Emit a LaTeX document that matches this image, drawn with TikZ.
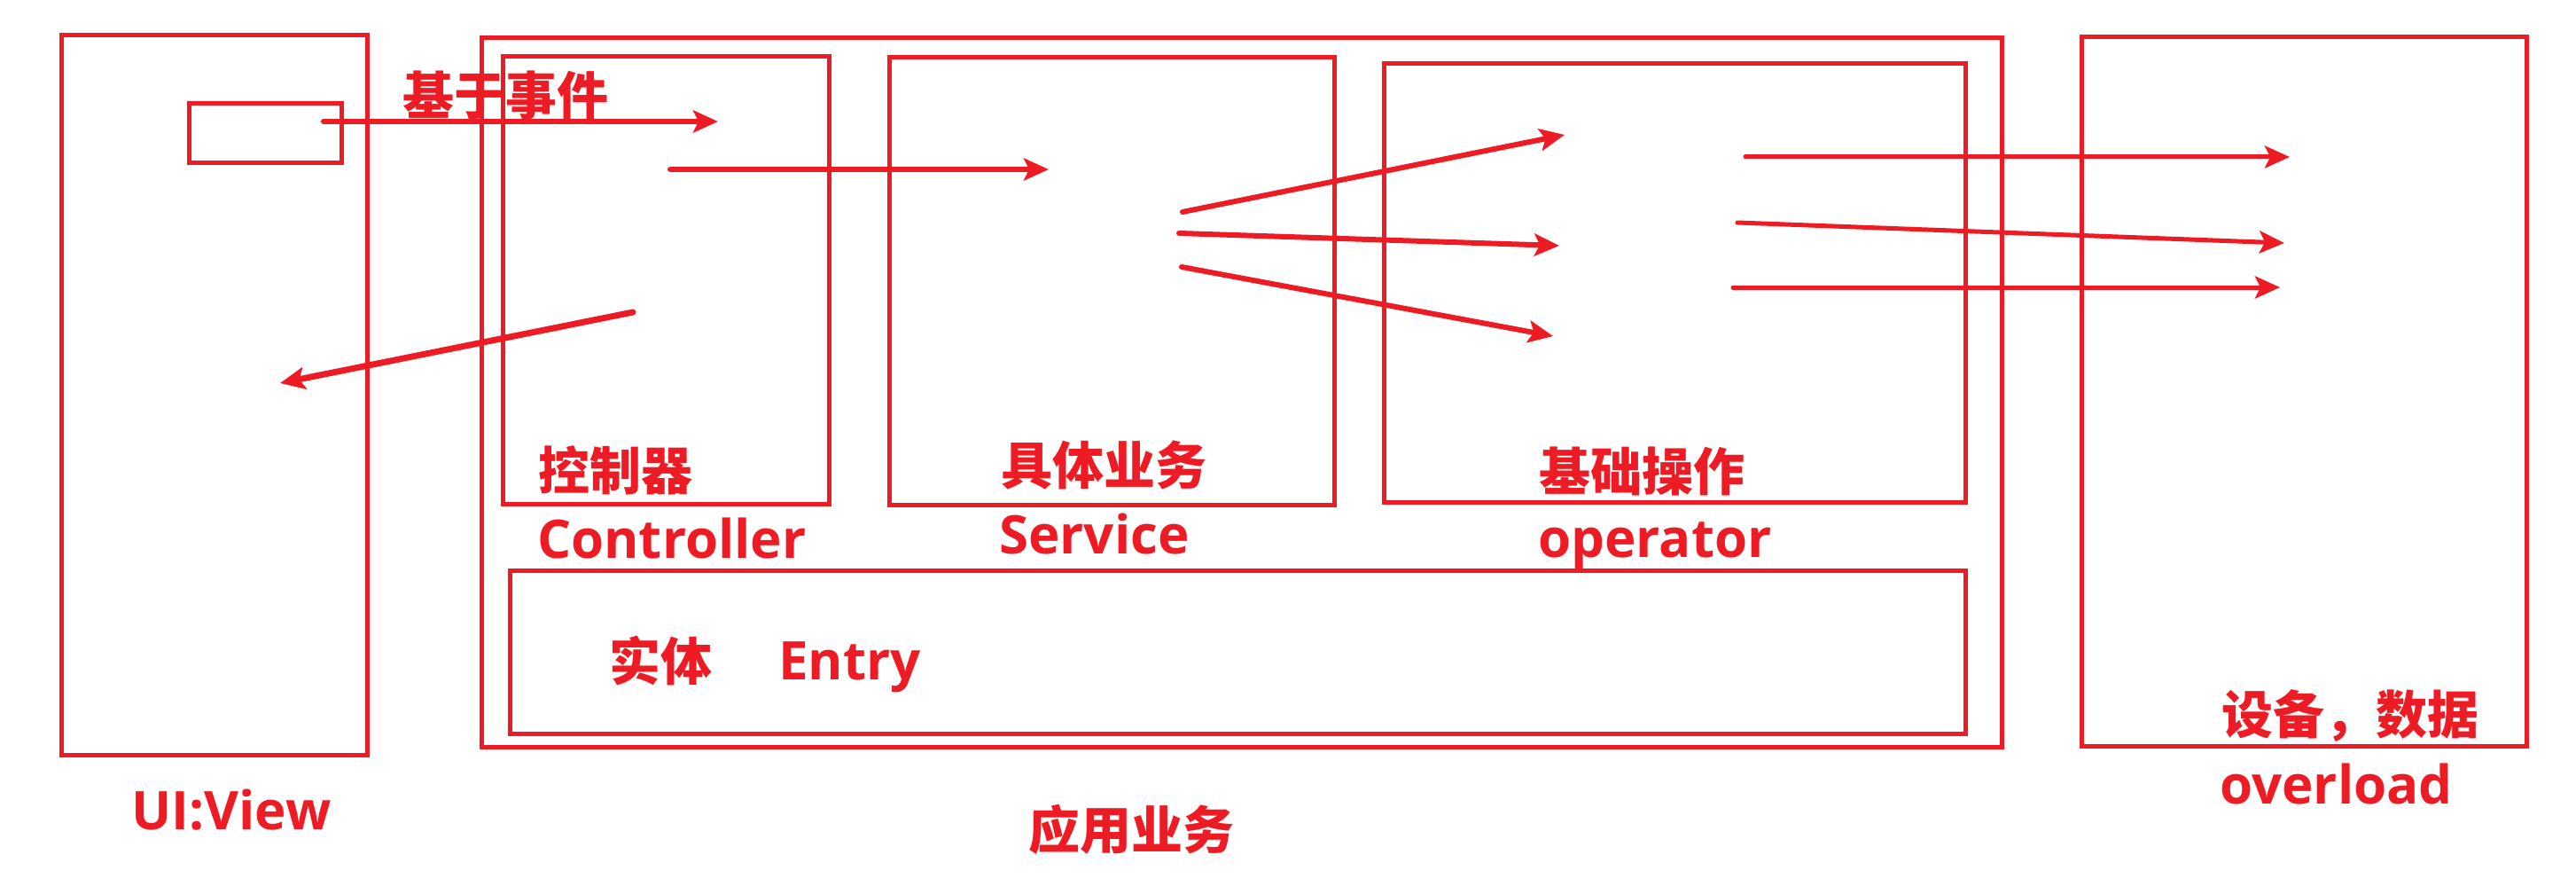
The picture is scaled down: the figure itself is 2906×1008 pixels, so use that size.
\documentclass[tikz,border=0pt]{standalone}
\usepackage{fontspec}
\newfontfamily\cjk{Noto Sans CJK SC}
\newfontfamily\lat{Open Sans}
\usetikzlibrary{arrows.meta}
\definecolor{pred}{HTML}{ED1C24}
\tikzset{
  box/.style={draw=pred, line width=5pt, inner sep=0pt, rectangle},
  arr/.style={draw=pred, line width=6pt, line cap=round,
     -{Stealth[length=28pt, width=25pt, inset=6pt]}},
  thinarr/.style={arr, line width=5pt},
  cjklab/.style={text=pred, inner sep=0pt, font=\cjk\bfseries\fontsize{58pt}{60pt}\selectfont},
  latlab/.style={text=pred, inner sep=0pt, anchor=base west, font=\lat\bfseries\fontsize{60pt}{62pt}\selectfont},
}
\begin{document}
\begin{tikzpicture}[x=1pt, y=-1pt]
\useasboundingbox (0,0) rectangle (2906,1008);
% boxes
\node[box, minimum width=345pt, minimum height=811pt] (ui) at (241.5,445.5) {};
\node[box, minimum width=172pt, minimum height=67pt] (ev) at (299,150.5) {};
\node[box, minimum width=1715pt, minimum height=799pt] (app) at (1400.5,442.5) {};
\node[box, minimum width=368pt, minimum height=504pt] (ctl) at (751,316) {};
\node[box, minimum width=502pt, minimum height=504pt] (svc) at (1254,317) {};
\node[box, minimum width=656pt, minimum height=494pt] (opr) at (1889,319) {};
\node[box, minimum width=1642pt, minimum height=184pt] (ent) at (1396,735) {};
\node[box, minimum width=502pt, minimum height=799pt] (dev) at (2599,441.5) {};
% arrow end points
\coordinate (e1s) at (365,137);  \coordinate (e1t) at (810,137);
\coordinate (e2s) at (756,191);  \coordinate (e2t) at (1183,191);
\coordinate (r1s) at (714,352);  \coordinate (r1t) at (316,432);
\coordinate (s1s) at (1334,239); \coordinate (s1t) at (1765,152);
\coordinate (s2s) at (1330,263); \coordinate (s2t) at (1759,277);
\coordinate (s3s) at (1333,301); \coordinate (s3t) at (1752,379);
\coordinate (o1s) at (1969,177); \coordinate (o1t) at (2583,177);
\coordinate (o2s) at (1960,251); \coordinate (o2t) at (2577,274);
\coordinate (o3s) at (1955,324); \coordinate (o3t) at (2572,324);
\draw[arr] (e1s) -- (e1t);
\draw[arr] (e2s) -- (e2t);
\draw[arr, line width=7pt] (r1s) -- (r1t);
\draw[arr] (s1s) -- (s1t);
\draw[arr] (s2s) -- (s2t);
\draw[arr] (s3s) -- (s3t);
\draw[thinarr] (o1s) -- (o1t);
\draw[thinarr] (o2s) -- (o2t);
\draw[thinarr] (o3s) -- (o3t);
% labels
\node[cjklab] (tev) at (570,108) {基于事件};
\node[cjklab] (tctl) at (694,530) {控制器};
\node[cjklab] (tsvc) at (1245,524) {具体业务};
\node[cjklab] (topr) at (1852,532) {基础操作};
\node[cjklab] (tent) at (745,745) {实体};
\node[cjklab] (tapp) at (1276,935) {应用业务};
\node[cjklab] (tdev) at (2651,807) {设备，数据};
\node[latlab] (lctl) at (606,629) {Controller};
\node[latlab] (lsvc) at (1127,624) {Service};
\node[latlab] (lopr) at (1735,628) {operator};
\node[latlab] (lent) at (878,766) {Entry};
\node[latlab] (lui) at (148,935) {UI:View};
\node[latlab] (ldev) at (2504,906) {overload};
\end{tikzpicture}
\end{document}
